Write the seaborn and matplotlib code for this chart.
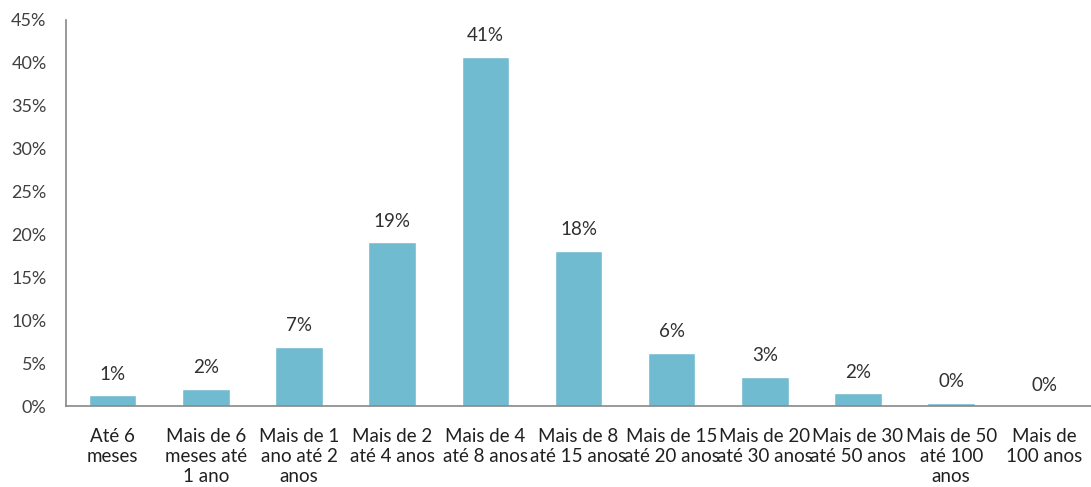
import matplotlib
matplotlib.use("Agg")
import matplotlib.pyplot as plt
import seaborn as sns
import pandas as pd
import numpy as np
from matplotlib.ticker import FixedLocator, PercentFormatter

categories = [
    "Até 6\nmeses",
    "Mais de 6\nmeses até\n1 ano",
    "Mais de 1\nano até 2\nanos",
    "Mais de 2\naté 4 anos",
    "Mais de 4\naté 8 anos",
    "Mais de 8\naté 15 anos",
    "Mais de 15\naté 20 anos",
    "Mais de 20\naté 30 anos",
    "Mais de 30\naté 50 anos",
    "Mais de 50\naté 100\nanos",
    "Mais de\n100 anos",
]
values = [1.3, 2.0, 6.9, 19.1, 40.7, 18.1, 6.2, 3.4, 1.5, 0.4, 0.0]
yticks = [0, 5, 10, 15, 20, 25, 30, 35, 40, 45]

sns.set_style("white")
plt.rcParams["font.family"] = ["Lato", "DejaVu Sans"]

df = pd.DataFrame({"cat": categories, "val": values})

fig = plt.figure(figsize=(10.91, 4.87), dpi=100)
ax = fig.add_axes([0.0605, 0.166, 0.9395, 0.793])
sns.barplot(data=df, x="cat", y="val", color="#70BBD0", width=0.51, ax=ax, saturation=1)

ax.set_xlim(-0.5, len(categories) - 0.5)
ax.set_ylim(0, 45)
ax.set_yticks(yticks)
ax.yaxis.set_major_formatter(PercentFormatter(decimals=0))
ax.set_xlabel("")
ax.set_ylabel("")

ax.tick_params(axis="y", which="major", length=5, color="#888888", labelsize=13, labelcolor="#404040", pad=9)
ax.tick_params(axis="x", which="major", length=0, labelsize=13.5, labelcolor="#202020", pad=16)
ax.xaxis.set_minor_locator(FixedLocator(np.arange(-0.5, len(categories), 1.0)))
ax.tick_params(axis="x", which="minor", length=6, color="#888888", width=1)

for s in ["top", "right"]:
    ax.spines[s].set_visible(False)
for s in ["left", "bottom"]:
    ax.spines[s].set_color("#888888")
    ax.spines[s].set_linewidth(1.2)

for lbl in ax.get_xticklabels():
    lbl.set_linespacing(1.2)

ax.bar_label(ax.containers[0], labels=[f"{v:.0f}%" for v in values],
             padding=9, fontsize=13.5, color="#303030")

fig.savefig("out.png", dpi=100)
